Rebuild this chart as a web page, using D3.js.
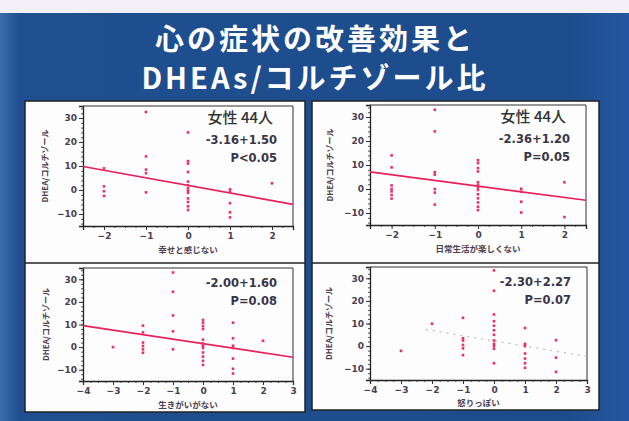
<!DOCTYPE html>
<html>
<head>
<meta charset="utf-8">
<script src="https://cdn.jsdelivr.net/npm/d3@7"></script>
<style>
  body { margin: 0; background: #fff; }
  svg { display: block; }
  text { font-family: "DejaVu Sans", "Noto Sans CJK JP", sans-serif; }
  .jp { font-family: "Noto Sans CJK JP", sans-serif; }
</style>
</head>
<body>
<script>
// chart data
const titleLines = ['心の症状の改善効果と', 'DHEAs/コルチゾール比'];
const yLabel = 'DHEA/コルチゾール';
const xLabels = ['幸せと感じない', '日常生活が楽しくない', '生きがいがない', '怒りっぽい'];
const groupLabel = '女性 44人';

// x categories for each panel
const cats1 = [-2, -1, 0, 1, 2];
const cats2 = [-2, -1, 0, 1, 2];
const cats3 = [-3, -2, -1, 0, 1, 2];
const cats4 = [-3, -2, -1, 0, 1, 2];

// y values for each category
const vals1 = [
  [9, 1.5, -0.5, -2.5],
  [32.5, 14, 8.5, 7, -1],
  [24, 12, 11, 7.5, 3.5, 2, 0.7, -0.3, -1.2, -3.5, -5, -6.8, -8.3],
  [0.3, -0.7, -5.5, -9.3, -11.4],
  [2.8]
];
const vals2 = [
  [14, 9, 1.5, 0, -1, -2.5, -4],
  [33, 24, 7, 6, 0, -1.5, -6.5],
  [12, 10.8, 8.7, 7.3, 2.8, 1.7, 0.6, -0.4, -2.2, -3.9, -5.6, -7.4, -8.8],
  [0.1, -1.1, -5.3, -9.8],
  [2.8, -11.7]
];
const vals3 = [
  [0],
  [9.5, 6.5, 2, 0.5, -1, -2.5],
  [33, 24.5, 14, 7, -1],
  [12, 10.8, 9.3, 8, 3.3, 1.6, 0.6, -0.4, -2.4, -4.2, -6.1, -7.9],
  [10.8, 3.9, 0.6, -0.4, -5.1, -9.6, -11.7],
  [2.8]
];
const vals4 = [
  [-2.1],
  [9.9],
  [12.5, 3.5, 2.5, 0.5, -1, -4],
  [33.5, 24.5, 14, 11, 9, 7, 5, 2.5, 1, 0, -1.2, -7.6],
  [8, 1, 0, -3.3, -5.5, -7.6, -9.6],
  [2.6, -5.1, -11.4]
];

// fitted lines: slope and intercept, annotation text
const slopes = [-3.16, -2.36, -2.00, -2.30];
const intercepts = [1.9, 1.2, 1.5, 2.3];
const fitTexts = ['-3.16+1.50', '-2.36+1.20', '-2.00+1.60', '-2.30+2.27'];
const pTexts = ['P<0.05', 'P=0.05', 'P=0.08', 'P=0.07'];

const yTicks = [-10, 0, 10, 20, 30];
const xTicksA = [-2, -1, 0, 1, 2];
const xTicksB = [-4, -3, -2, -1, 0, 1, 2, 3];

const W = 629, H = 421;
const svg = d3.select('body').append('svg')
  .attr('width', W).attr('height', H);

// background: blue slide
const defs = svg.append('defs');
const grad = defs.append('linearGradient').attr('id', 'bg')
  .attr('x1', 0).attr('x2', 1).attr('y1', 0).attr('y2', 0);
grad.append('stop').attr('offset', '0%').attr('stop-color', '#3b6db0');
grad.append('stop').attr('offset', '3%').attr('stop-color', '#1f4f90');
grad.append('stop').attr('offset', '90%').attr('stop-color', '#1d4c8c');
grad.append('stop').attr('offset', '100%').attr('stop-color', '#2457a0');

svg.append('rect').attr('width', W).attr('height', H).attr('fill', '#f3eff7');
svg.append('rect').attr('x', 0).attr('y', 13).attr('width', W).attr('height', H - 13)
  .attr('fill', 'url(#bg)');

// title
svg.selectAll('text.title')
  .data(titleLines)
  .enter()
  .append('text')
  .attr('class', 'title jp')
  .attr('x', 315)
  .attr('y', (d, i) => 50 + i * 39)
  .attr('text-anchor', 'middle')
  .attr('fill', '#fff')
  .attr('font-size', 29)
  .attr('letter-spacing', 3)
  .attr('font-weight', 700)
  .text(d => d);

// white panels
const panelBoxes = [
  { x: 25, y: 101, w: 280, h: 311 },
  { x: 312, y: 101, w: 287, h: 309 }
];
panelBoxes.forEach(b => {
  svg.append('rect').attr('x', b.x).attr('y', b.y).attr('width', b.w).attr('height', b.h)
    .attr('fill', '#fdfdfd').attr('stroke', '#222').attr('stroke-width', 1.5);
  svg.append('line').attr('x1', b.x).attr('x2', b.x + b.w).attr('y1', 263).attr('y2', 263)
    .attr('stroke', '#222').attr('stroke-width', 1.5);
});

const panels = [
  { cats: cats1, vals: vals1, xd: [-2.5, 2.5], xt: xTicksA, left: 83, right: 293, top: 106, bottom: 226, ylx: 45, xly: 250, showGroup: true, dotted: false },
  { cats: cats2, vals: vals2, xd: [-2.5, 2.5], xt: xTicksA, left: 370, right: 586, top: 105, bottom: 225, ylx: 330, xly: 249, showGroup: true, dotted: false },
  { cats: cats3, vals: vals3, xd: [-4, 3], xt: xTicksB, left: 83, right: 293, top: 268, bottom: 381, ylx: 46, xly: 405, showGroup: false, dotted: false },
  { cats: cats4, vals: vals4, xd: [-4, 3], xt: xTicksB, left: 370, right: 587, top: 267, bottom: 380, ylx: 329, xly: 403, showGroup: false, dotted: true }
];

const red = '#e8306a';

panels.forEach((p, i) => {
  const g = svg.append('g');
  const x = d3.scaleLinear().domain(p.xd).range([p.left, p.right]);
  const y = d3.scaleLinear().domain([-15, 35]).range([p.bottom, p.top]);

  // minor ticks
  g.append('g')
    .attr('transform', `translate(${p.left},0)`)
    .call(d3.axisLeft(y).tickValues(d3.range(-14, 35, 2)).tickSize(2).tickFormat(''))
    .call(a => a.select('.domain').remove())
    .selectAll('line').attr('stroke', '#555');
  g.append('g')
    .attr('transform', `translate(0,${p.bottom})`)
    .call(d3.axisBottom(x).tickValues(d3.range(p.xd[0], p.xd[1] + 0.01, 0.25)).tickSize(2).tickFormat(''))
    .call(a => a.select('.domain').remove())
    .selectAll('line').attr('stroke', '#555');

  // major axes
  const ya = g.append('g')
    .attr('transform', `translate(${p.left},0)`)
    .call(d3.axisLeft(y).tickValues(yTicks).tickSize(4).tickPadding(2).tickFormat(d3.format('d')));
  const xa = g.append('g')
    .attr('transform', `translate(0,${p.bottom})`)
    .call(d3.axisBottom(x).tickValues(p.xt).tickSize(4).tickPadding(3).tickFormat(d3.format('d')));
  [ya, xa].forEach(a => {
    a.select('.domain').attr('stroke', '#222').attr('stroke-width', 1.3);
    a.selectAll('line').attr('stroke', '#333');
    a.selectAll('text').attr('fill', '#4a4050').attr('font-size', 9).attr('font-weight', 700)
      .attr('font-family', '"DejaVu Sans", sans-serif');
  });

  // frame top and right
  g.append('line').attr('x1', p.left).attr('x2', p.right).attr('y1', p.top).attr('y2', p.top)
    .attr('stroke', '#333').attr('stroke-width', 1);
  g.append('line').attr('x1', p.right).attr('x2', p.right).attr('y1', p.top).attr('y2', p.bottom)
    .attr('stroke', '#333').attr('stroke-width', 1);

  // fitted line (the faint one in the last panel only shows from about x=-2.2)
  const x0 = p.dotted ? -2.2 : p.xd[0];
  const fit = g.append('line')
    .attr('x1', x(x0)).attr('y1', y(intercepts[i] + slopes[i] * x0))
    .attr('x2', x(p.xd[1])).attr('y2', y(intercepts[i] + slopes[i] * p.xd[1]));
  if (p.dotted) {
    fit.attr('stroke', '#bdbdc4').attr('stroke-width', 1.2).attr('stroke-dasharray', '2,5');
  } else {
    fit.attr('stroke', '#e8205c').attr('stroke-width', 1.7);
  }

  // points
  const pts = [];
  p.cats.forEach((c, k) => p.vals[k].forEach(v => pts.push([c, v])));
  g.selectAll('rect.pt')
    .data(pts)
    .enter()
    .append('rect')
    .attr('class', 'pt')
    .attr('x', d => x(d[0]) - 1.3)
    .attr('y', d => y(d[1]) - 1.3)
    .attr('width', 2.6)
    .attr('height', 2.6)
    .attr('fill', red);

  // annotations
  const tx = p.right - 16;
  let ty = p.top + 12;
  if (p.showGroup) {
    g.append('text').attr('class', 'jp')
      .attr('x', tx - 4).attr('y', ty + 5)
      .attr('text-anchor', 'end').attr('fill', '#333')
      .attr('font-size', 15).attr('font-weight', 500).text(groupLabel);
    ty += 22;
  } else {
    ty += 3;
  }
  g.append('text')
    .attr('x', tx).attr('y', ty + 4)
    .attr('text-anchor', 'end').attr('fill', '#3a3546')
    .attr('font-size', 11.5).attr('font-weight', 700)
    .text(fitTexts[i]);
  g.append('text')
    .attr('x', tx).attr('y', ty + 22)
    .attr('text-anchor', 'end').attr('fill', '#3a3546')
    .attr('font-size', 11.5).attr('font-weight', 700)
    .text(pTexts[i]);

  // axis labels
  g.append('text').attr('class', 'jp')
    .attr('x', (p.left + p.right) / 2).attr('y', p.xly + 3)
    .attr('text-anchor', 'middle').attr('fill', '#4a4050')
    .attr('font-size', 8.5).attr('font-weight', 700)
    .text(xLabels[i]);
  g.append('text').attr('class', 'jp')
    .attr('transform', `translate(${p.ylx},${(p.top + p.bottom) / 2}) rotate(-90)`)
    .attr('text-anchor', 'middle').attr('dy', '0.35em').attr('fill', '#4a4050')
    .attr('font-size', 8).attr('font-weight', 700)
    .text(yLabel);
});
</script>
</body>
</html>
